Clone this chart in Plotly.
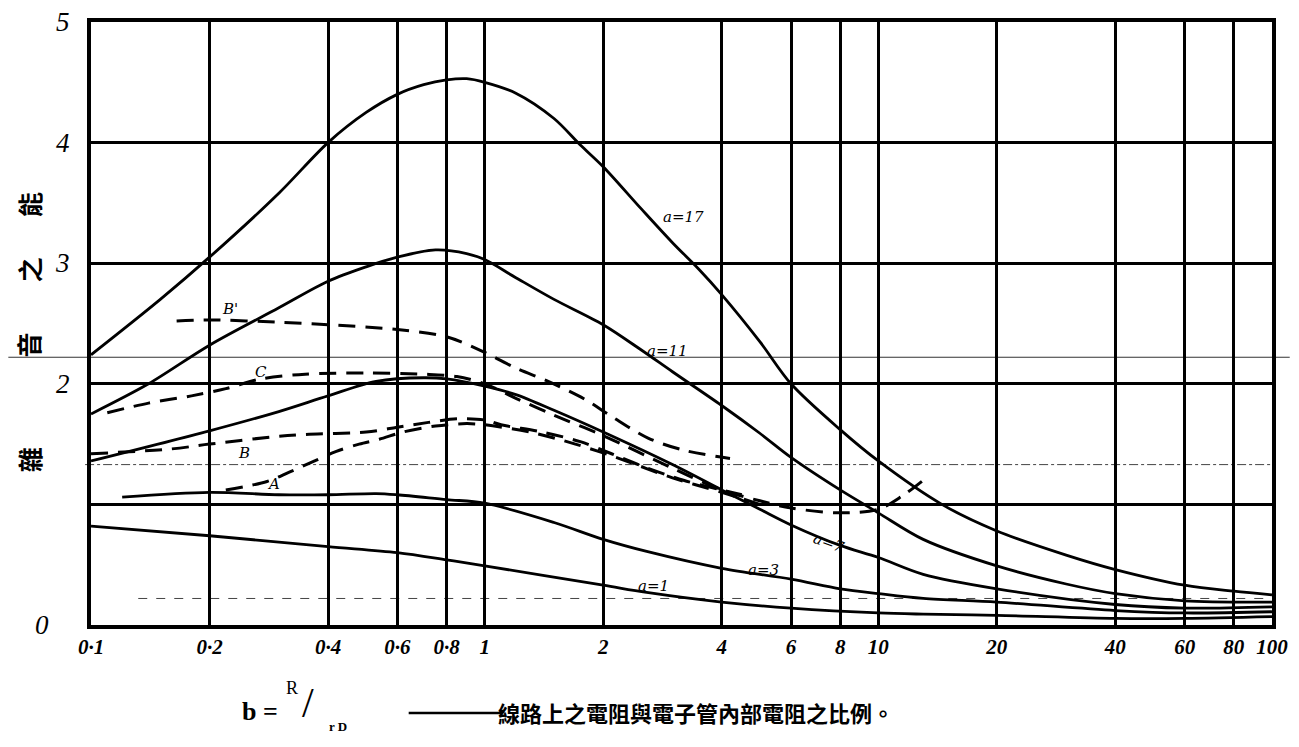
import math
import plotly.graph_objects as go

# ---- axis ticks ----
x_ticks = [0.1, 0.2, 0.4, 0.6, 0.8, 1, 2, 4, 6, 8, 10, 20, 40, 60, 80, 100]
x_tick_text = ["0·1", "0·2", "0·4", "0·6", "0·8", "1", "2", "4", "6", "8", "10", "20", "40", "60", "80", "100"]
y_ticks = [0, 1, 2, 3, 4, 5]
y_label_vals = [0, 2, 3, 4, 5]
y_label_text = ["0", "2", "3", "4", "5"]

# ---- solid curves (a = 17, 11, 7, 3, 1) ----
a17_x = [0.1, 0.15, 0.2, 0.3, 0.4, 0.5, 0.6, 0.7, 0.8, 0.9, 1, 1.2, 1.5, 1.75, 2, 2.5, 3, 3.5, 4, 5, 6, 8, 10, 14.5, 20, 30, 40, 60, 80, 100]
a17_y = [2.24, 2.70, 3.05, 3.58, 4.0, 4.25, 4.40, 4.48, 4.52, 4.53, 4.50, 4.41, 4.20, 3.98, 3.80, 3.45, 3.17, 2.95, 2.74, 2.35, 2.0, 1.62, 1.36, 1.0, 0.78, 0.58, 0.46, 0.33, 0.28, 0.25]

a11_x = [0.1, 0.14, 0.2, 0.3, 0.4, 0.5, 0.6, 0.75, 0.9, 1, 1.2, 1.5, 2, 2.5, 3, 4, 5, 6, 8, 10, 13, 20, 30, 40, 60, 100]
a11_y = [1.75, 2.0, 2.32, 2.63, 2.85, 2.97, 3.05, 3.11, 3.08, 3.03, 2.88, 2.70, 2.49, 2.28, 2.10, 1.82, 1.59, 1.39, 1.12, 0.93, 0.71, 0.49, 0.34, 0.26, 0.20, 0.19]

a7_x = [0.1, 0.2, 0.3, 0.4, 0.53, 0.7, 0.8, 1, 1.2, 1.5, 2, 3, 4, 5, 6, 8, 10, 13, 20, 40, 60, 100]
a7_y = [1.36, 1.61, 1.77, 1.90, 2.02, 2.05, 2.04, 1.98, 1.91, 1.78, 1.60, 1.33, 1.12, 0.96, 0.83, 0.66, 0.56, 0.42, 0.30, 0.17, 0.14, 0.15]

a3_x = [0.12, 0.2, 0.3, 0.4, 0.53, 0.6, 0.8, 1, 1.5, 2, 2.58, 4, 6, 8, 10, 13, 20, 40, 60, 100]
a3_y = [1.06, 1.10, 1.08, 1.08, 1.09, 1.08, 1.04, 1.01, 0.85, 0.71, 0.61, 0.47, 0.38, 0.30, 0.26, 0.22, 0.19, 0.12, 0.10, 0.11]

a1_x = [0.1, 0.2, 0.4, 0.6, 0.8, 1, 2, 2.58, 4, 6, 10, 13, 20, 40, 60, 100]
a1_y = [0.82, 0.74, 0.65, 0.60, 0.54, 0.49, 0.33, 0.27, 0.19, 0.14, 0.10, 0.09, 0.08, 0.055, 0.055, 0.07]

# ---- dashed curves (B', C, B, A) ----
bp_x = [0.165, 0.2, 0.3, 0.4, 0.6, 0.8, 1, 1.2, 1.45, 1.8, 2.1, 2.6, 3.2, 4.2]
bp_y = [2.52, 2.53, 2.51, 2.49, 2.45, 2.39, 2.26, 2.13, 2.02, 1.87, 1.73, 1.55, 1.45, 1.38]

c_x = [0.11, 0.14, 0.18, 0.22, 0.27, 0.35, 0.5, 0.7, 0.85, 1, 1.2, 1.5, 2, 3, 4, 5, 6, 8, 10, 11.5, 13]
c_y = [1.76, 1.84, 1.90, 1.96, 2.04, 2.08, 2.09, 2.08, 2.06, 2.0, 1.88, 1.74, 1.57, 1.30, 1.12, 1.03, 0.97, 0.93, 0.96, 1.07, 1.2]

b_x = [0.1, 0.16, 0.2, 0.29, 0.35, 0.5, 0.6, 0.72, 0.85, 1, 1.1, 1.4, 1.75, 2.1, 2.5, 3.2, 4, 4.5]
b_y = [1.42, 1.46, 1.50, 1.56, 1.58, 1.60, 1.64, 1.68, 1.71, 1.70, 1.66, 1.60, 1.52, 1.42, 1.32, 1.20, 1.12, 1.08]

a_x = [0.22, 0.28, 0.32, 0.37, 0.42, 0.48, 0.54, 0.62, 0.75, 0.9, 1, 1.3, 1.7, 2.2, 3, 4, 5]
a_y = [1.12, 1.19, 1.27, 1.36, 1.44, 1.50, 1.54, 1.60, 1.65, 1.67, 1.66, 1.60, 1.50, 1.38, 1.22, 1.10, 1.0]

# ---- curve labels ----
label_text = ["a=17", "a=11", "a=7", "a=3", "a=1", "B'", "C", "B", "A"]
label_x = [3.2, 2.92, 7.5, 5.1, 2.68, 0.226, 0.27, 0.244, 0.29]
label_y = [3.38, 2.27, 0.68, 0.46, 0.32, 2.62, 2.10, 1.43, 1.17]
label_angle = [0, 0, 20, 0, 0, 0, 0, 0, 0]

# faint printing lines across the sheet
faint_lines = [2.22, 1.33, 0.22]

solid = [(a17_x, a17_y), (a11_x, a11_y), (a7_x, a7_y), (a3_x, a3_y), (a1_x, a1_y)]
dashed = [(bp_x, bp_y), (c_x, c_y), (b_x, b_y), (a_x, a_y)]

fig = go.Figure()
for xs, ys in solid:
    fig.add_trace(go.Scatter(x=xs, y=ys, mode="lines",
                             line=dict(color="black", width=2.8, shape="spline", smoothing=0.9),
                             hoverinfo="skip", showlegend=False))
for xs, ys in dashed:
    fig.add_trace(go.Scatter(x=xs, y=ys, mode="lines",
                             line=dict(color="black", width=3, dash="17px,10px", shape="spline", smoothing=0.9),
                             hoverinfo="skip", showlegend=False))

for t, lx, ly, ang in zip(label_text, label_x, label_y, label_angle):
    fig.add_annotation(x=math.log10(lx), y=ly, xref="x", yref="y", text=t, showarrow=False,
                       textangle=ang, xanchor="center", yanchor="middle",
                       font=dict(family="DejaVu Serif", size=15, color="black", style="italic"))

# faint lines
fig.add_shape(type="line", xref="paper", yref="y", x0=-0.07, x1=1.015,
              y0=faint_lines[0], y1=faint_lines[0], line=dict(color="#333333", width=1.2), layer="below")
fig.add_shape(type="line", xref="paper", yref="y", x0=-0.005, x1=1.0,
              y0=faint_lines[1], y1=faint_lines[1], line=dict(color="#444444", width=1, dash="dashdot"), layer="below")
fig.add_shape(type="line", xref="paper", yref="y", x0=0.04, x1=1.0,
              y0=faint_lines[2], y1=faint_lines[2], line=dict(color="#444444", width=1, dash="dash"), layer="below")

# y tick labels as text beside the axis
for v, t in zip(y_label_vals, y_label_text):
    fig.add_annotation(x=(-0.0415 if v == 0 else -0.024), y=v, xref="paper", yref="y", text=t,
                       showarrow=False, xanchor="center", yanchor="middle",
                       font=dict(family="Liberation Serif", size=27, color="black", style="italic"))

# y-axis title characters (rotated, reading bottom to top)
title_chars = ["雜", "音", "之", "能"]
title_char_y = [0.274, 0.464, 0.589, 0.697]
for ch, cy in zip(title_chars, title_char_y):
    fig.add_annotation(x=-0.053, y=cy, xref="paper", yref="paper", text="<b>" + ch + "</b>",
                       showarrow=False, textangle=-90, xanchor="center", yanchor="middle",
                       font=dict(family="Noto Sans CJK TC", size=25, color="black"))

# x-axis title, composed of pieces
serif = "Liberation Serif"
cjk = "Noto Sans CJK TC"
title_parts = [
    ("<b>b =</b>", 0.143, -0.144, serif, 26),
    ("R", 0.170, -0.104, serif, 18),
    ("/", 0.184, -0.130, serif, 42),
    ("<b>r D</b>", 0.209, -0.168, serif, 13),
    ("<b>線路上之電阻與電子管內部電阻之比例。</b>", 0.512, -0.144, cjk, 22),
]
for txt, px, py, fam, sz in title_parts:
    fig.add_annotation(x=px, y=py, xref="paper", yref="paper", text=txt, showarrow=False,
                       xanchor="center", yanchor="middle",
                       font=dict(family=fam, size=sz, color="black"))
# the long dash of the title
fig.add_shape(type="line", xref="paper", yref="paper", x0=0.269, x1=0.348, y0=-0.146, y1=-0.146,
              line=dict(color="black", width=2.5))

fig.update_xaxes(type="log", range=[-1, 2], tickvals=x_ticks, ticktext=x_tick_text,
                 showgrid=True, gridcolor="black", gridwidth=3, zeroline=False,
                 showline=True, linecolor="black", linewidth=3.5, mirror=True, ticks="",
                 tickfont=dict(family="Liberation Serif", size=21, color="black", style="italic", weight="bold"))
fig.update_yaxes(range=[0, 5], tickvals=y_ticks, showticklabels=False,
                 showgrid=True, gridcolor="black", gridwidth=3, zeroline=False,
                 showline=True, linecolor="black", linewidth=3.5, mirror=True, ticks="")

# the page body adds an 8px margin, so the figure is sized to fit inside it
fig.update_layout(width=1283, height=731, margin=dict(l=83, r=19, t=14, b=114, autoexpand=False),
                  paper_bgcolor="white", plot_bgcolor="white", showlegend=False)

fig.write_html("out.html")
